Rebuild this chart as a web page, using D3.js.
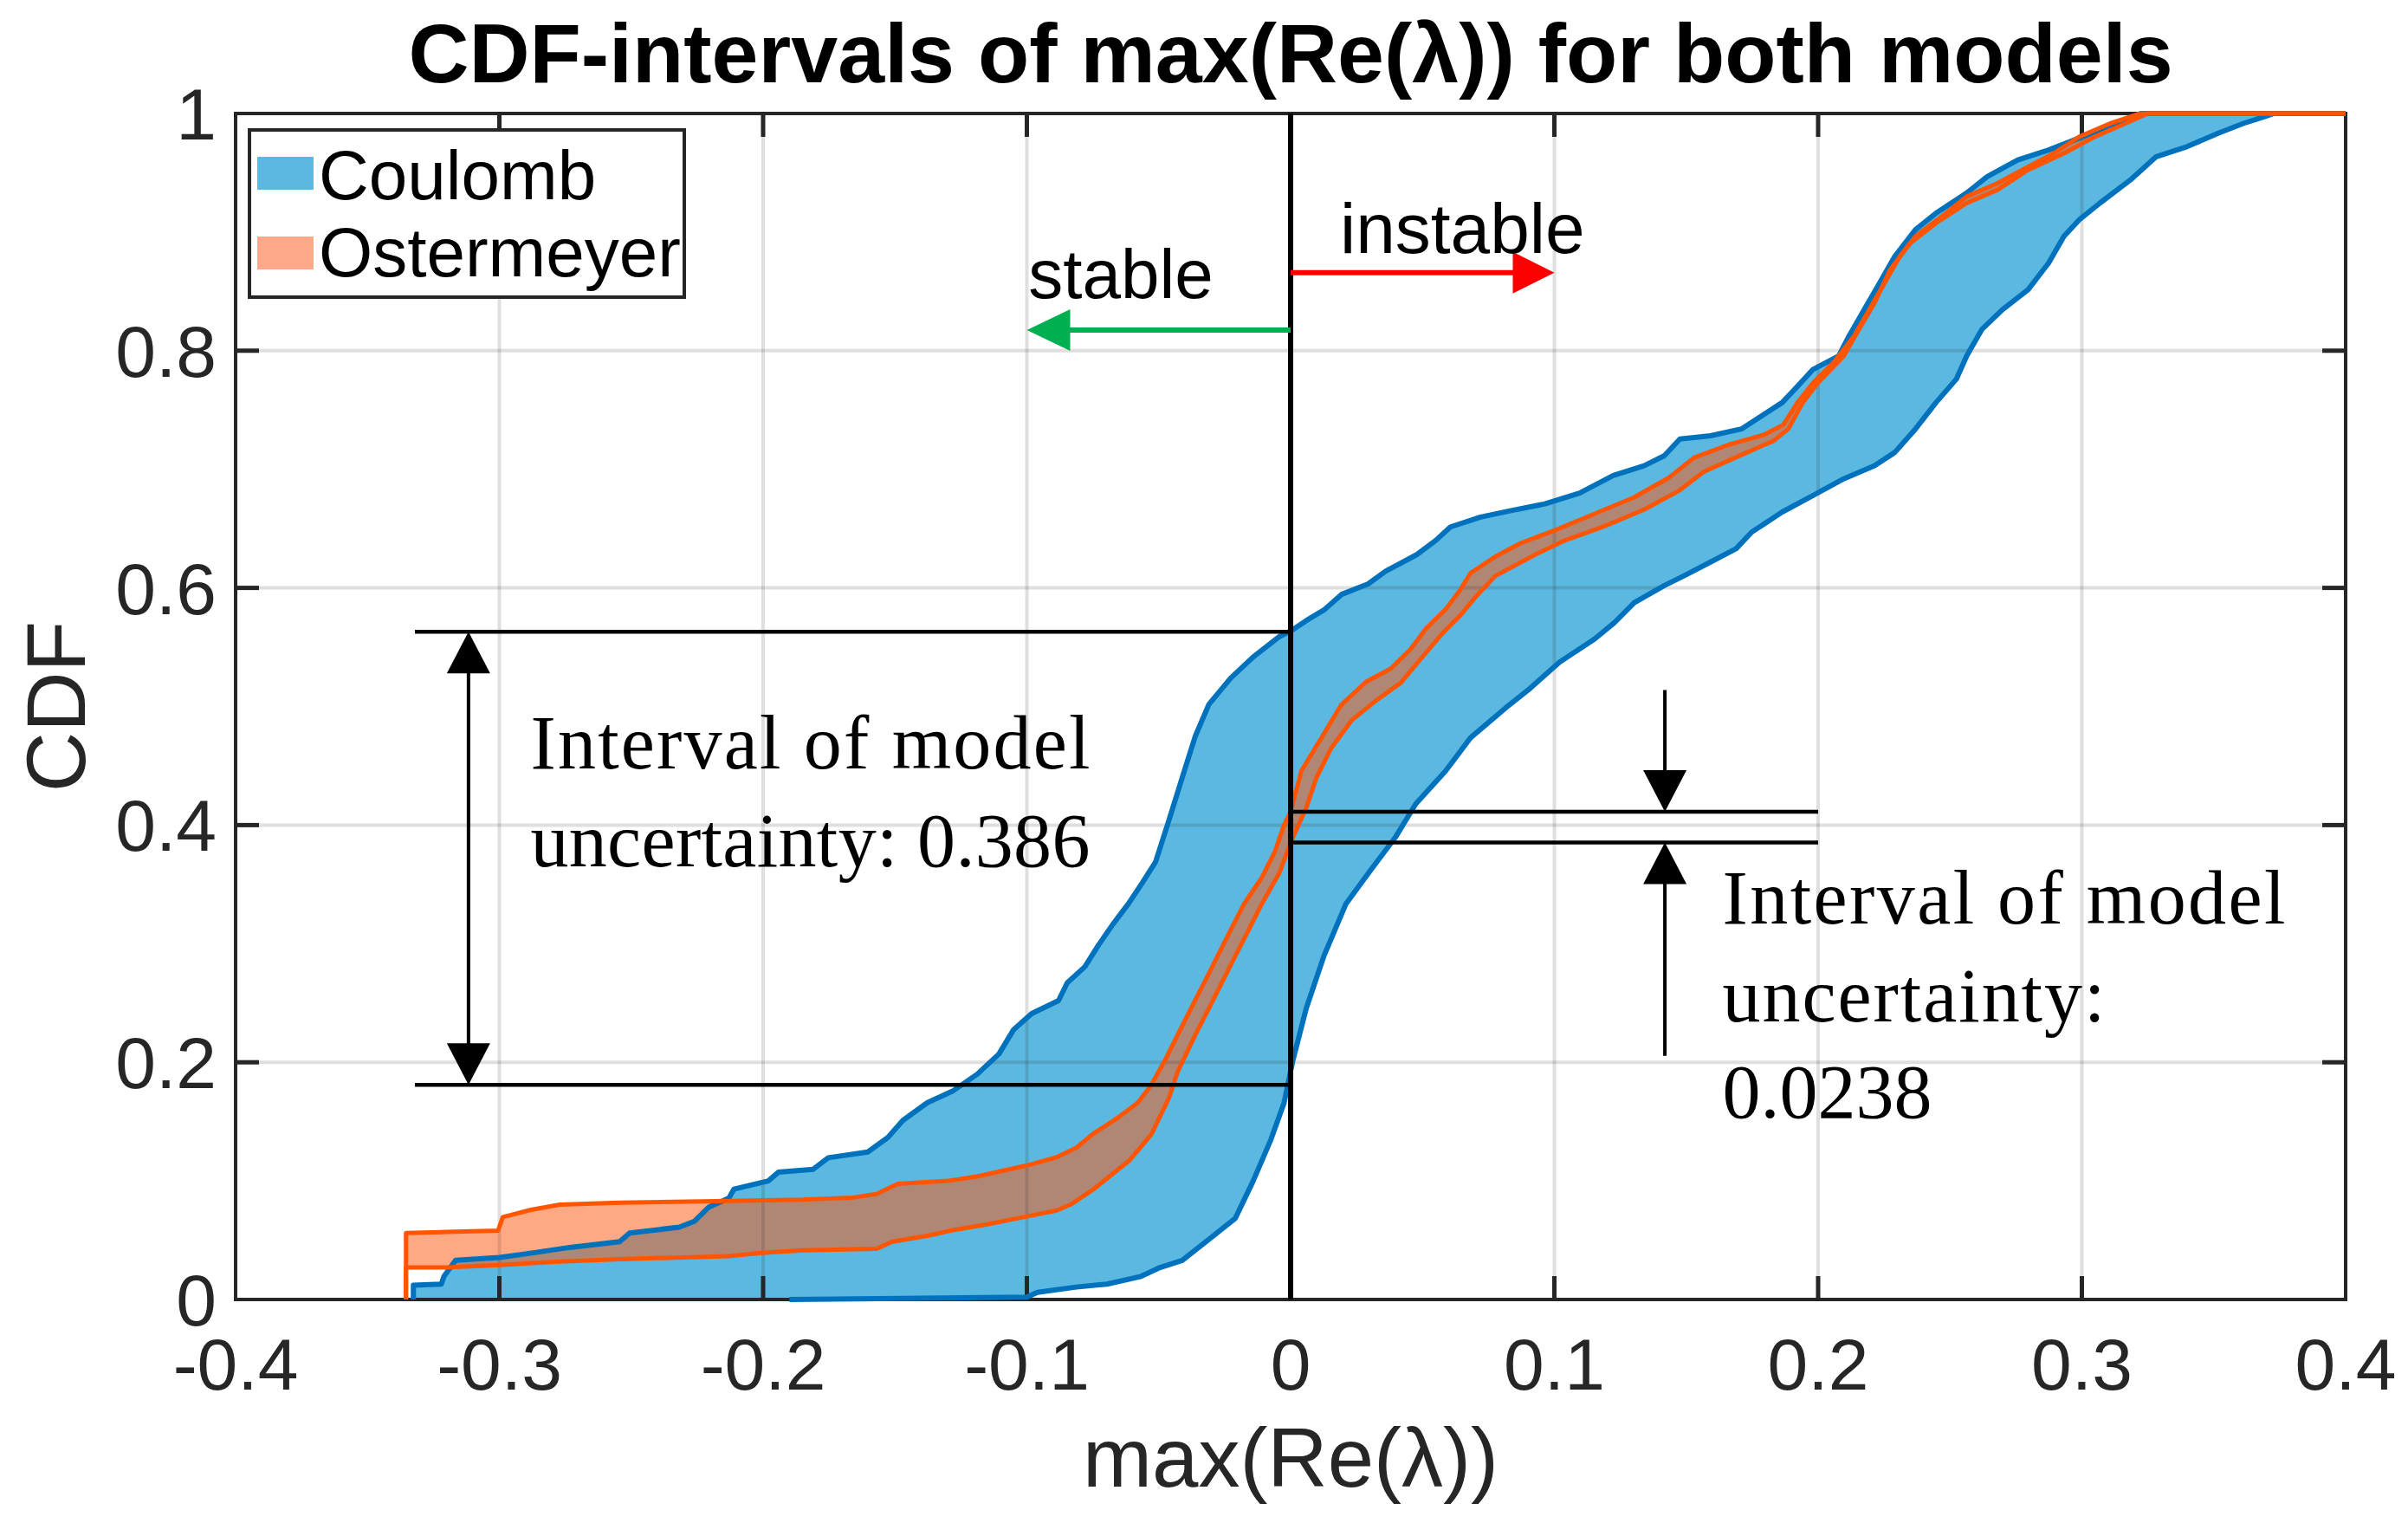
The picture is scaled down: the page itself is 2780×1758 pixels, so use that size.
<!DOCTYPE html>
<html><head><meta charset="utf-8">
<script src="https://cdn.jsdelivr.net/npm/d3@7"></script>
<style>html,body{margin:0;padding:0;background:#fff}svg{display:block}</style>
</head><body>
<svg id="chart" width="2780" height="1758"></svg>
<script>
// ---------------- data ----------------
const xTicks = [-0.4,-0.3,-0.2,-0.1,0,0.1,0.2,0.3,0.4];
const xTickLabels = ["-0.4","-0.3","-0.2","-0.1","0","0.1","0.2","0.3","0.4"];
const yTicks = [0,0.2,0.4,0.6,0.8,1];
const yTickLabels = ["0","0.2","0.4","0.6","0.8","1"];
const seriesNames = ["Coulomb","Ostermeyer"];

// Coulomb CDF interval: upper (left) and lower (right) bounds, [max(Re(λ)), CDF]
const coulombUpper = [[-0.3326,0],[-0.3326,0.012],[-0.3220,0.013],[-0.3210,0.0195],[-0.3166,0.033],[-0.3000,0.0354],[-0.2883,0.039],[-0.2733,0.0439],[-0.2544,0.0488],[-0.2506,0.056],[-0.2318,0.061],[-0.2261,0.0659],[-0.2205,0.078],[-0.2130,0.0854],[-0.2111,0.093],[-0.1980,0.100],[-0.1942,0.1073],[-0.1810,0.1098],[-0.1753,0.1195],[-0.1603,0.1244],[-0.1527,0.1366],[-0.1470,0.151],[-0.1377,0.166],[-0.1282,0.1756],[-0.1188,0.190],[-0.1106,0.207],[-0.1050,0.2276],[-0.0982,0.241],[-0.0880,0.252],[-0.0847,0.267],[-0.0780,0.2806],[-0.0730,0.2983],[-0.0675,0.316],[-0.0615,0.3337],[-0.0562,0.3514],[-0.0512,0.369],[-0.0461,0.4044],[-0.0411,0.440],[-0.0361,0.4752],[-0.0310,0.5017],[-0.0227,0.524],[-0.0143,0.5415],[-0.0042,0.559],[0,0.5636],[0.0059,0.5724],[0.0126,0.5813],[0.0193,0.5945],[0.0294,0.6034],[0.0360,0.6140],[0.0478,0.628],[0.0550,0.640],[0.0606,0.6514],[0.0720,0.6597],[0.0832,0.665],[0.0964,0.6708],[0.1096,0.6800],[0.1223,0.6947],[0.1340,0.703],[0.1417,0.7115],[0.1476,0.7255],[0.1592,0.7283],[0.1709,0.734],[0.1786,0.745],[0.1864,0.7563],[0.1922,0.770],[0.1981,0.7843],[0.2078,0.7955],[0.2117,0.8123],[0.2175,0.8347],[0.2233,0.857],[0.2291,0.8796],[0.2369,0.902],[0.2447,0.916],[0.2563,0.933],[0.2641,0.9468],[0.2757,0.9608],[0.2874,0.9692],[0.2971,0.9776],[0.3068,0.986],[0.3165,0.9944],[0.3223,1],[0.4,1]];
const coulombLower = [[-0.19,0],[-0.100,0.002],[-0.096,0.006],[-0.0812,0.0105],[-0.0696,0.013],[-0.0567,0.0195],[-0.0495,0.027],[-0.0411,0.033],[-0.0310,0.0507],[-0.0210,0.0684],[-0.0143,0.0994],[-0.0075,0.1347],[-0.0025,0.1657],[0.0008,0.201],[0.0059,0.2453],[0.0126,0.2895],[0.0210,0.3337],[0.0305,0.3625],[0.0399,0.3903],[0.0475,0.418],[0.0588,0.4458],[0.0682,0.4736],[0.0814,0.4986],[0.0908,0.5153],[0.1020,0.5375],[0.1153,0.557],[0.1228,0.5708],[0.1303,0.5875],[0.1417,0.602],[0.1495,0.6106],[0.1592,0.6218],[0.1689,0.633],[0.1748,0.647],[0.1864,0.664],[0.1981,0.678],[0.2097,0.692],[0.2214,0.703],[0.2291,0.7143],[0.2369,0.734],[0.2447,0.7563],[0.2524,0.776],[0.2563,0.7955],[0.2621,0.818],[0.2699,0.8347],[0.2796,0.8515],[0.2874,0.874],[0.2932,0.8964],[0.2990,0.9104],[0.3068,0.9244],[0.3184,0.944],[0.3282,0.9636],[0.3398,0.972],[0.3515,0.9832],[0.3612,0.9916],[0.3690,0.9972],[0.3728,1],[0.4,1]];

// Ostermeyer CDF interval
const ostermeyerUpper = [[-0.3354,0],[-0.3354,0.056],[-0.3200,0.057],[-0.3005,0.058],[-0.2987,0.0695],[-0.2880,0.0756],[-0.2771,0.080],[-0.2544,0.0817],[-0.2130,0.083],[-0.1850,0.0841],[-0.1660,0.0859],[-0.1570,0.089],[-0.1490,0.0976],[-0.1300,0.100],[-0.1189,0.1037],[-0.1000,0.113],[-0.0887,0.120],[-0.0812,0.128],[-0.0747,0.140],[-0.0663,0.152],[-0.0579,0.166],[-0.0528,0.181],[-0.0478,0.201],[-0.0428,0.2232],[-0.0378,0.2453],[-0.0327,0.2674],[-0.0277,0.2895],[-0.0227,0.3116],[-0.0176,0.3337],[-0.0109,0.3558],[-0.0059,0.378],[-0.0025,0.400],[0,0.4112],[0.0041,0.4458],[0.0117,0.4736],[0.0192,0.5014],[0.0286,0.5208],[0.0380,0.532],[0.0456,0.5486],[0.0512,0.5653],[0.0588,0.582],[0.0644,0.5986],[0.0682,0.6125],[0.0776,0.6264],[0.0870,0.6375],[0.1002,0.6486],[0.1153,0.6625],[0.1303,0.6764],[0.1435,0.693],[0.1529,0.7097],[0.1661,0.7208],[0.1793,0.729],[0.1868,0.7375],[0.1922,0.7563],[0.1981,0.773],[0.2058,0.790],[0.2136,0.8123],[0.2194,0.8347],[0.2252,0.857],[0.2310,0.8796],[0.2369,0.8964],[0.2485,0.916],[0.2563,0.930],[0.2680,0.9412],[0.2796,0.9552],[0.2893,0.9664],[0.2990,0.9804],[0.3107,0.9916],[0.3223,1],[0.4,1]];
const ostermeyerLower = [[-0.3354,0],[-0.3354,0.027],[-0.3200,0.027],[-0.3000,0.029],[-0.2790,0.0317],[-0.2544,0.034],[-0.2130,0.0366],[-0.2017,0.039],[-0.1850,0.0415],[-0.1570,0.0427],[-0.1510,0.0488],[-0.1377,0.0537],[-0.1280,0.0585],[-0.1150,0.0634],[-0.1000,0.070],[-0.0887,0.075],[-0.0830,0.0805],[-0.0747,0.093],[-0.0680,0.105],[-0.0612,0.117],[-0.0528,0.1392],[-0.0461,0.170],[-0.0428,0.1922],[-0.0361,0.2232],[-0.0310,0.2453],[-0.0260,0.2674],[-0.0210,0.2895],[-0.0159,0.3116],[-0.0109,0.3337],[-0.0042,0.360],[0,0.3853],[0.0060,0.4150],[0.0098,0.4400],[0.0154,0.4650],[0.0230,0.488],[0.0324,0.5050],[0.0418,0.5200],[0.0493,0.540],[0.0569,0.560],[0.0644,0.577],[0.0700,0.592],[0.0776,0.610],[0.0927,0.628],[0.1040,0.640],[0.1190,0.652],[0.1340,0.666],[0.1473,0.682],[0.1567,0.698],[0.1718,0.713],[0.1831,0.724],[0.1887,0.734],[0.1942,0.7563],[0.2000,0.773],[0.2097,0.7955],[0.2155,0.818],[0.2214,0.8403],[0.2272,0.868],[0.2350,0.8908],[0.2447,0.9076],[0.2563,0.9244],[0.2680,0.9356],[0.2796,0.9524],[0.2932,0.9664],[0.3049,0.9804],[0.3165,0.9916],[0.3250,1],[0.4,1]];

// annotation values
const coulombIntervalAtZero = [0.181, 0.563];      // -> 0.386
const ostermeyerIntervalAtZero = [0.3853, 0.4112]; // -> 0.0238
const annotationLabels = {
  left: ["Interval of model", "uncertainty: 0.386"],
  right: ["Interval of model", "uncertainty:", "0.0238"]
};

// ---------------- drawing ----------------
const svg = d3.select("#chart");
const L = 272, R = 2708, T = 131, B = 1500;
const x = d3.scaleLinear().domain([-0.4, 0.4]).range([L, R]);
const y = d3.scaleLinear().domain([0, 1]).range([B, T]);

const BLUE_FILL = "#5BB8E0", BLUE_LINE = "#0072BD";
const ORANGE_FILL = "#FF5A14", ORANGE_LINE = "#FF5500";
const AX = "#262626";
const SANS = "'Liberation Sans', Arial, Helvetica, sans-serif";
const SERIF = "'Liberation Serif', 'Times New Roman', serif";

const line = d3.line().x(d => x(d[0])).y(d => y(d[1]));
const bandPath = (up, lo) => line(up.concat(lo.slice().reverse())) + "Z";

svg.append("rect").attr("width", 2780).attr("height", 1758).attr("fill", "#fff");

// fills
svg.append("path").attr("d", bandPath(coulombUpper, coulombLower)).attr("fill", BLUE_FILL);
svg.append("path").attr("d", bandPath(ostermeyerUpper, ostermeyerLower))
  .attr("fill", ORANGE_FILL).attr("fill-opacity", 0.52);

// grid
const grid = svg.append("g").attr("stroke", AX).attr("stroke-opacity", 0.15).attr("stroke-width", 4);
grid.selectAll("line.gx").data(xTicks.slice(1, -1)).join("line")
  .attr("x1", d => x(d)).attr("x2", d => x(d)).attr("y1", T).attr("y2", B);
grid.selectAll("line.gy").data(yTicks.slice(1, -1)).join("line")
  .attr("y1", d => y(d)).attr("y2", d => y(d)).attr("x1", L).attr("x2", R);

// axes box and inward ticks
const axes = svg.append("g");
axes.append("rect").attr("x", L).attr("y", T).attr("width", R - L).attr("height", B - T)
  .attr("fill", "none").attr("stroke", AX).attr("stroke-width", 4);
const TL = 27;
const tk = axes.append("g").attr("stroke", AX).attr("stroke-width", 5);
xTicks.slice(1, -1).forEach(t => {
  tk.append("line").attr("x1", x(t)).attr("x2", x(t)).attr("y1", B).attr("y2", B - TL);
  tk.append("line").attr("x1", x(t)).attr("x2", x(t)).attr("y1", T).attr("y2", T + TL);
});
yTicks.slice(1, -1).forEach(t => {
  tk.append("line").attr("y1", y(t)).attr("y2", y(t)).attr("x1", L).attr("x2", L + TL);
  tk.append("line").attr("y1", y(t)).attr("y2", y(t)).attr("x1", R).attr("x2", R - TL);
});

// edge lines
[coulombUpper, coulombLower].forEach(d =>
  svg.append("path").attr("d", line(d)).attr("fill", "none").attr("stroke", BLUE_LINE)
    .attr("stroke-width", 6).attr("stroke-linejoin", "round"));
[ostermeyerUpper, ostermeyerLower].forEach(d =>
  svg.append("path").attr("d", line(d)).attr("fill", "none").attr("stroke", ORANGE_LINE)
    .attr("stroke-width", 5).attr("stroke-linejoin", "round"));

// tick labels
svg.append("g").selectAll("text").data(xTicks).join("text")
  .attr("x", d => x(d)).attr("y", 1604).attr("text-anchor", "middle")
  .attr("font-family", SANS).attr("font-size", 84).attr("fill", AX)
  .text((d, i) => xTickLabels[i]);
svg.append("g").selectAll("text").data(yTicks).join("text")
  .attr("x", 250).attr("y", d => y(d) + 30).attr("text-anchor", "end")
  .attr("font-family", SANS).attr("font-size", 84).attr("fill", AX)
  .text((d, i) => yTickLabels[i]);

// axis labels and title
svg.append("text").attr("x", (L + R) / 2).attr("y", 1716).attr("text-anchor", "middle")
  .attr("font-family", SANS).attr("font-size", 96).attr("fill", AX).text("max(Re(λ))");
svg.append("text").attr("transform", `translate(98,${(T + B) / 2}) rotate(-90)`)
  .attr("text-anchor", "middle").attr("font-family", SANS).attr("font-size", 96).attr("fill", AX).text("CDF");
svg.append("text").attr("x", (L + R) / 2).attr("y", 95).attr("text-anchor", "middle")
  .attr("font-family", SANS).attr("font-weight", "bold").attr("font-size", 97).attr("fill", "#000")
  .text("CDF-intervals of max(Re(λ)) for both models");

// annotations: black reference lines
const ann = svg.append("g").attr("stroke", "#000");
ann.append("line").attr("x1", x(0)).attr("x2", x(0)).attr("y1", T).attr("y2", B).attr("stroke-width", 6);
coulombIntervalAtZero.forEach(v =>
  ann.append("line").attr("x1", x(-0.332)).attr("x2", x(0)).attr("y1", y(v)).attr("y2", y(v)).attr("stroke-width", 4.5));
ostermeyerIntervalAtZero.forEach(v =>
  ann.append("line").attr("x1", x(0)).attr("x2", x(0.2)).attr("y1", y(v)).attr("y2", y(v)).attr("stroke-width", 4.5));

function head(g, tx, ty, dir, color, len = 48, hw = 25) {
  let p;
  if (dir === "up") p = [[tx, ty], [tx - hw, ty + len], [tx + hw, ty + len]];
  if (dir === "down") p = [[tx, ty], [tx - hw, ty - len], [tx + hw, ty - len]];
  if (dir === "left") p = [[tx, ty], [tx + len, ty - hw], [tx + len, ty + hw]];
  if (dir === "right") p = [[tx, ty], [tx - len, ty - hw], [tx - len, ty + hw]];
  g.append("path").attr("d", "M" + p.map(q => q.join(",")).join("L") + "Z").attr("fill", color).attr("stroke", "none");
}

// left double arrow
const ax1 = x(-0.3117);
ann.append("line").attr("x1", ax1).attr("x2", ax1)
  .attr("y1", y(coulombIntervalAtZero[1]) + 40).attr("y2", y(coulombIntervalAtZero[0]) - 40).attr("stroke-width", 4);
head(svg, ax1, y(coulombIntervalAtZero[1]), "up", "#000");
head(svg, ax1, y(coulombIntervalAtZero[0]), "down", "#000");

// right arrows
const ax2 = x(0.1419);
ann.append("line").attr("x1", ax2).attr("x2", ax2).attr("y1", y(0.5139)).attr("y2", y(ostermeyerIntervalAtZero[1]) - 40).attr("stroke-width", 4);
ann.append("line").attr("x1", ax2).attr("x2", ax2).attr("y1", y(0.2055)).attr("y2", y(ostermeyerIntervalAtZero[0]) + 40).attr("stroke-width", 4);
head(svg, ax2, y(ostermeyerIntervalAtZero[1]), "down", "#000");
head(svg, ax2, y(ostermeyerIntervalAtZero[0]), "up", "#000");

// stable / instable arrows
const gy = y(0.8173), ry = y(0.8658);
svg.append("line").attr("x1", x(0)).attr("x2", x(-0.1) + 40).attr("y1", gy).attr("y2", gy)
  .attr("stroke", "#00B050").attr("stroke-width", 6);
head(svg, x(-0.1), gy, "left", "#00B050", 50, 24);
svg.append("line").attr("x1", x(0)).attr("x2", x(0.1) - 40).attr("y1", ry).attr("y2", ry)
  .attr("stroke", "#FF0000").attr("stroke-width", 6);
head(svg, x(0.1), ry, "right", "#FF0000", 48, 24);

svg.append("text").attr("x", x(-0.0994)).attr("y", y(0.8447))
  .attr("font-family", SANS).attr("font-size", 80).attr("fill", "#000").text("stable");
svg.append("text").attr("x", x(0.0187)).attr("y", y(0.8827))
  .attr("font-family", SANS).attr("font-size", 82).attr("fill", "#000").text("instable");

// serif annotation text
const leftBase = [0.448, 0.3653], leftW = [646, 646];
annotationLabels.left.forEach((s, i) =>
  svg.append("text").attr("x", x(-0.2882)).attr("y", y(leftBase[i]))
    .attr("font-family", SERIF).attr("font-size", 88).attr("fill", "#000")
    .attr("textLength", leftW[i]).attr("lengthAdjust", "spacing").text(s));
const rightBase = [0.3172, 0.2347, 0.1531], rightW = [650, 442, null];
annotationLabels.right.forEach((s, i) => {
  const t = svg.append("text").attr("x", x(0.1637)).attr("y", y(rightBase[i]))
    .attr("font-family", SERIF).attr("font-size", 88).attr("fill", "#000").text(s);
  if (rightW[i]) t.attr("textLength", rightW[i]).attr("lengthAdjust", "spacing");
});

// legend
const lg = svg.append("g");
lg.append("rect").attr("x", 288).attr("y", 150).attr("width", 502).attr("height", 193)
  .attr("fill", "#fff").attr("stroke", AX).attr("stroke-width", 4);
const swatch = ["#5BB8E0", "#FFA98A"];
seriesNames.forEach((n, i) => {
  lg.append("rect").attr("x", 297).attr("y", 181 + i * 92).attr("width", 65).attr("height", 38).attr("fill", swatch[i]);
  lg.append("text").attr("x", 368).attr("y", 230 + i * 89).attr("font-family", SANS)
    .attr("font-size", 80).attr("fill", "#000").text(n);
});
</script>
</body></html>
